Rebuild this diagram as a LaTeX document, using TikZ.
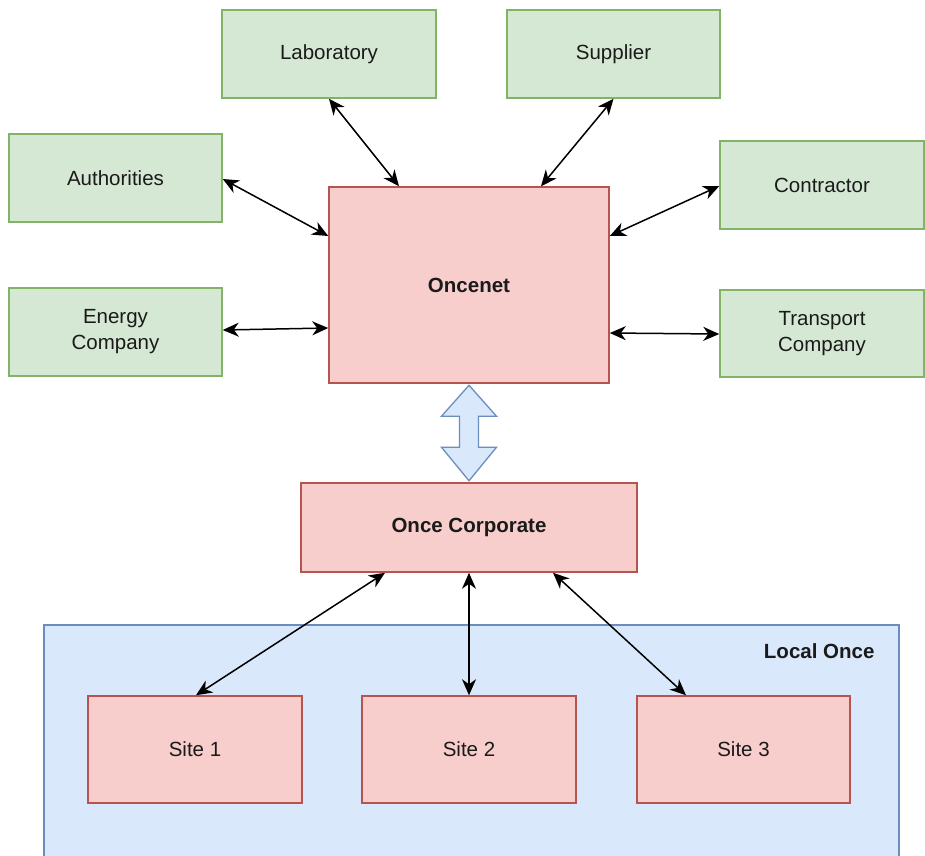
\documentclass[tikz,border=0pt]{standalone}
\usepackage{fontspec}
\setmainfont{Liberation Sans}
\usetikzlibrary{arrows.meta}
\definecolor{gfill}{HTML}{D5E8D4}
\definecolor{gline}{HTML}{82B366}
\definecolor{rfill}{HTML}{F8CECC}
\definecolor{rline}{HTML}{B85450}
\definecolor{bfill}{HTML}{DAE8FC}
\definecolor{bline}{HTML}{6C8EBF}
\definecolor{txt}{HTML}{1A1A1A}
\tikzset{
  gbox/.style={draw=gline, fill=gfill, line width=1.5pt, align=center, inner sep=0pt,
    text=txt, font=\fontsize{20.5}{26}\selectfont},
  rbox/.style={draw=rline, fill=rfill, line width=1.5pt, align=center, inner sep=0pt,
    text=txt, font=\fontsize{20.5}{26}\selectfont},
  conn/.style={line width=1.5pt, {Stealth[length=16pt,width=14pt,inset=5pt]}-{Stealth[length=16pt,width=14pt,inset=5pt]}},
}
\begin{document}
\begin{tikzpicture}[x=1pt,y=-1pt]
\clip (0,0) rectangle (925,855);
\fill[white] (0,0) rectangle (925,855);
% container
\draw[draw=bline, fill=bfill, line width=1.5pt] (44,625) rectangle (899,880);
\node[anchor=east, text=txt, font=\fontsize{20.5}{26}\selectfont\bfseries] (loc) at (878,651) {Local Once};
% top boxes
\node[gbox, minimum width=214pt, minimum height=88pt] (lab) at (329,54) {Laboratory};
\node[gbox, minimum width=213pt, minimum height=88pt] (sup) at (613.5,54) {Supplier};
\node[gbox, minimum width=213pt, minimum height=88pt] (aut) at (115.5,178) {Authorities};
\node[gbox, minimum width=204pt, minimum height=88pt] (con) at (822,185) {Contractor};
\node[gbox, minimum width=213pt, minimum height=88pt] (ene) at (115.5,332) {Energy\\Company};
\node[gbox, minimum width=204pt, minimum height=87pt] (tra) at (822,333.5) {Transport\\Company};
\node[rbox, minimum width=280pt, minimum height=196pt, font=\fontsize{20.5}{26}\selectfont\bfseries] (onc) at (469,285) {Oncenet};
\node[rbox, minimum width=336pt, minimum height=89pt, font=\fontsize{20.5}{26}\selectfont\bfseries] (cor) at (469,527.5) {Once Corporate};
\node[rbox, minimum width=214pt, minimum height=107pt] (s1) at (195,749.5) {Site 1};
\node[rbox, minimum width=214pt, minimum height=107pt] (s2) at (469,749.5) {Site 2};
\node[rbox, minimum width=213pt, minimum height=107pt] (s3) at (743.5,749.5) {Site 3};
% block arrow
\coordinate (bt) at (onc.south);
\coordinate (bb) at (cor.north);
\draw[draw=bline, fill=bfill, line width=1.3pt, line join=miter]
  ([yshift=-1.5pt]bt) -- ++(27.5,31) -- ++(-18,0) -- ++(0,31) -- ++(18,0)
  -- ([yshift=1.5pt]bb) -- ++(-27.5,-33.5) -- ++(18,0) -- ++(0,-31) -- ++(-18,0) -- cycle;
% connectors
\draw[conn] (lab.south) -- ([xshift=-70pt]onc.north);
\draw[conn] (sup.south) -- ([xshift=72pt]onc.north);
\draw[conn] ([yshift=-1pt]aut.east) -- ([yshift=49pt]onc.west);
\draw[conn] ([yshift=-1pt]con.west) -- ([yshift=49pt]onc.east);
\draw[conn] ([yshift=2pt]ene.east) -- ([yshift=-43pt]onc.west);
\draw[conn] ([yshift=-0.5pt]tra.west) -- ([yshift=-48pt]onc.east);
\draw[conn] ([xshift=-84pt]cor.south) -- ([xshift=1pt]s1.north);
\draw[conn] (cor.south) -- (s2.north);
\draw[conn] ([xshift=84pt]cor.south) -- ([xshift=-57.5pt]s3.north);
\end{tikzpicture}
\end{document}
